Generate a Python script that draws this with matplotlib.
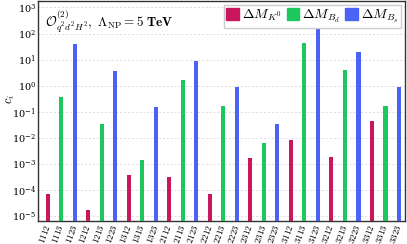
import matplotlib
matplotlib.use('Agg')
import matplotlib.pyplot as plt
import numpy as np
from matplotlib.patches import Patch

plt.rcParams['mathtext.fontset'] = 'cm'
plt.rcParams['font.family'] = 'serif'
plt.rcParams['font.serif'] = ['DejaVu Serif']

labels = ['1112', '1113', '1123', '1212', '1213', '1223', '1312', '1313', '1323',
          '2112', '2113', '2123', '2212', '2213', '2223', '2312', '2313', '2323',
          '3112', '3113', '3123', '3212', '3213', '3223', '3312', '3313', '3323']
observables = ['K0', 'Bd', 'Bs'] * 9
values = [7e-5, 0.38, 40, 1.7e-5, 0.035, 3.8, 3.8e-4, 1.4e-3, 0.15,
          3e-4, 1.7, 9.0, 7e-5, 0.16, 0.87, 1.7e-3, 6.3e-3, 0.035,
          8e-3, 42, 220, 1.9e-3, 4.0, 19.5, 0.044, 0.16, 0.85]

colors = {'K0': '#c8175d', 'Bd': '#1dc75e', 'Bs': '#4a63f5'}
legend_names = {'K0': r'$\boldsymbol{\Delta M_{K^0}}$',
                'Bd': r'$\boldsymbol{\Delta M_{B_d}}$',
                'Bs': r'$\boldsymbol{\Delta M_{B_s}}$'}

fig = plt.figure(figsize=(4.07, 2.44), dpi=100)
ax = fig.add_axes([0.0934, 0.094, 0.9016, 0.902])

x = np.arange(len(labels))
ax.bar(x, values, width=0.3, color=[colors[o] for o in observables], zorder=3)

ax.set_yscale('log')
ax.set_ylim(10**-5.2, 10**3.25)
ax.set_xlim(-0.72, 26.44)
ax.set_yticks([10.0**k for k in range(-5, 4)])
ax.yaxis.set_minor_locator(matplotlib.ticker.NullLocator())
ax.grid(axis='y', linestyle=(0, (2, 2)), color='#dddddd', linewidth=0.7, zorder=0)

ax.set_xticks(x)
ax.set_xticklabels(['$' + l + '$' for l in labels], rotation=70, fontsize=6.5,
                   ha='right', va='center', rotation_mode='anchor')
ax.tick_params(axis='x', length=0, pad=3)
ax.tick_params(axis='y', labelsize=7, length=0, pad=1.5)

# y label placed by hand so it sits close to the left edge like the original
fig.text(0.026, 0.595, r'$c_i$', rotation=90, ha='center', va='center', fontsize=9)

for s in ax.spines.values():
    s.set_linewidth(1.0)
    s.set_color('#333333')

ax.text(0.02, 0.97, r'$\mathcal{O}^{(2)}_{q^2d^2H^2},\ \Lambda_{\rm NP} = \mathbf{5\ TeV}$',
        transform=ax.transAxes, ha='left', va='top', fontsize=9.5)

handles = [Patch(color=colors[k], label=legend_names[k]) for k in ['K0', 'Bd', 'Bs']]
ax.legend(handles=handles, loc='upper right', ncol=3, fontsize=10,
          handlelength=0.9, handleheight=0.9, handletextpad=0.2, columnspacing=0.4,
          borderpad=0.2, borderaxespad=0.3, fancybox=False, framealpha=1,
          edgecolor='#cccccc')

fig.savefig('out.png', dpi=100)
